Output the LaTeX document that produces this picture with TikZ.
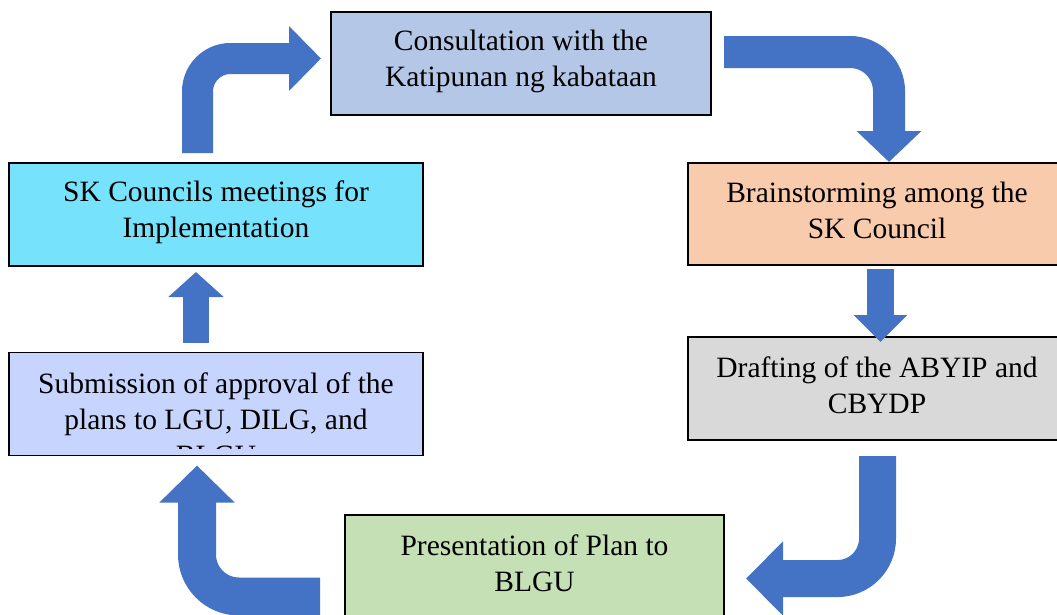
\documentclass[tikz,border=0pt]{standalone}
\usepackage{fontspec}
\setmainfont{Liberation Serif}
\usetikzlibrary{positioning,calc,arrows.meta}

\definecolor{consultfill}{HTML}{B4C7E7}
\definecolor{brainfill}{HTML}{F8CBAD}
\definecolor{draftfill}{HTML}{D9D9D9}
\definecolor{presentfill}{HTML}{C5E0B4}
\definecolor{submitfill}{HTML}{C7D5FE}
\definecolor{skfill}{HTML}{76E2FC}
\definecolor{flowblue}{HTML}{4472C4}

\begin{document}
\begin{tikzpicture}[x=1pt, y=-1pt]
        % Styles for the boxes, their texts and the block arrows
        \tikzset{
            box/.style={draw=black, line width=1.6pt, rectangle, inner sep=0pt,
                outer sep=0pt, minimum height=103pt},
            boxtext/.style={anchor=north, inner sep=0pt, align=center,
                font=\fontsize{29.5pt}{36pt}\selectfont},
            flow/.style={draw=flowblue, line cap=butt},
        }

        % Page frame
        \useasboundingbox (0, 0) rectangle (1057, 614);
        \clip (0, 0) rectangle (1057, 614);

        % Boxes of the cycle
        \node [box, fill=consultfill, minimum width=380pt] (consult) at (521, 63.5) {};
        \node [box, fill=brainfill, minimum width=378pt, minimum height=102pt] (brain) at (877, 214) {};
        \node [box, fill=draftfill, minimum width=378pt] (draft) at (877, 388.5) {};
        \node [box, fill=presentfill, minimum width=379pt] (present) at (534.5, 566.5) {};
        \node [box, fill=submitfill, minimum width=414pt] (submit) at (216, 404) {};
        \node [box, fill=skfill, minimum width=414pt] (skmeet) at (216, 214.5) {};

        % Texts, hung from the top of each box
        \node [boxtext] (consult-txt) at ([yshift=-18pt]consult.north)
            {Consultation with the\\Katipunan ng kabataan};
        \node [boxtext] (brain-txt) at ([yshift=-19pt]brain.north)
            {Brainstorming among the\\SK Council};
        \node [boxtext] (draft-txt) at ([yshift=-20pt]draft.north)
            {Drafting of the ABYIP and\\CBYDP};
        \node [boxtext] (present-txt) at ([yshift=-20pt]present.north)
            {Presentation of Plan to\\BLGU};
        \node [boxtext] (skmeet-txt) at ([yshift=-18pt]skmeet.north)
            {SK Councils meetings for\\Implementation};
        % The last line of this one is cut by the box
        \begin{scope}
            \clip (submit.north west) rectangle ([yshift=7pt]submit.south east);
            \node [boxtext] (submit-txt) at ([yshift=-20pt]submit.north)
                {Submission of approval of the\\plans to LGU, DILG, and\\BLGU};
        \end{scope}

        % Block arrows between the boxes
        \draw [flow, line width=31pt, rounded corners=33pt,
            -{Triangle[width=63pt, length=32pt]}]
            ([xshift=-18.5pt, yshift=10pt]skmeet.north) |- ([xshift=-10pt, yshift=5pt]consult.west);
        \draw [flow, line width=32pt, rounded corners=39pt,
            -{Triangle[width=63pt, length=31pt]}]
            ([xshift=13pt, yshift=11.5pt]consult.east) -| ([xshift=12pt, yshift=1pt]brain.north);
        \draw [flow, line width=27pt, -{Triangle[width=52pt, length=27pt]}]
            ([xshift=3.5pt, yshift=-4pt]brain.south) -- ([xshift=3.5pt, yshift=-5pt]draft.north);
        \draw [flow, line width=37pt, rounded corners=40pt,
            -{Triangle[width=72pt, length=37pt]}]
            ([xshift=0.5pt, yshift=-16pt]draft.south) |- ([xshift=22pt, yshift=-12pt]present.east);
        \draw [flow, line width=38pt, rounded corners=42pt,
            -{Triangle[width=73pt, length=37pt]}]
            ([xshift=-25pt, yshift=-30pt]present.west) -| ([xshift=-19pt, yshift=-10pt]submit.south);
        \draw [flow, line width=26pt, -{Triangle[width=54pt, length=25pt]}]
            ([xshift=-20pt, yshift=10pt]submit.north) -- ([xshift=-20pt, yshift=-6pt]skmeet.south);
\end{tikzpicture}
\end{document}
